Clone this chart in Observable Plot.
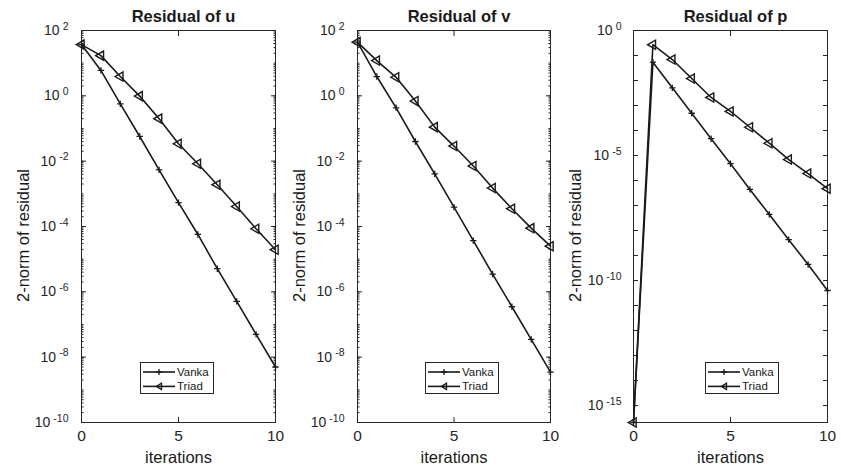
<!DOCTYPE html>
<html><head><meta charset="utf-8">
<script src="https://cdn.jsdelivr.net/npm/d3@7"></script>
<script src="https://cdn.jsdelivr.net/npm/@observablehq/plot@0.6"></script>
<style>
body{margin:0;background:#fff;}
#root{position:relative;width:841px;height:469px;font-family:"Liberation Sans",Arial,Helvetica,sans-serif;}
.panel{position:absolute;top:0;}
.panel svg{overflow:visible;}
</style></head><body><div id="root"></div>
<script>
const iterations = [0,1,2,3,4,5,6,7,8,9,10];
const uVanka = [37, 6.0, 0.57, 5.7e-2, 5.4e-3, 5.4e-4, 5.7e-5, 5.1e-6, 5.1e-7, 5.0e-8, 5.0e-9];
const uTriad = [37, 17, 3.9, 0.98, 0.20, 3.4e-2, 8.3e-3, 1.9e-3, 4.1e-4, 8.5e-5, 1.95e-5];
const vVanka = [44, 3.9, 0.43, 4.0e-2, 4.1e-3, 3.9e-4, 3.7e-5, 3.5e-6, 3.5e-7, 3.5e-8, 3.5e-9];
const vTriad = [44, 12, 3.7, 0.69, 0.11, 2.9e-2, 7.1e-3, 1.5e-3, 3.5e-4, 8.9e-5, 2.5e-5];
const pVanka = [2.1e-16, 5.4e-2, 5.1e-3, 4.9e-4, 4.7e-5, 4.7e-6, 4.4e-7, 4.4e-8, 4.3e-9, 4.4e-10, 4.0e-11];
const pTriad = [2.1e-16, 0.27, 6.9e-2, 1.2e-2, 2.1e-3, 5.8e-4, 1.35e-4, 3.1e-5, 6.9e-6, 1.9e-6, 4.7e-7];
const titles = ["Residual of u", "Residual of v", "Residual of p"];
const legendLabels = ["Vanka", "Triad"];
const xTicks = [0, 5, 10];
const uvMajorExps = [2, 0, -2, -4, -6, -8, -10];
const pMajorExps = [0, -5, -10, -15];
const xLabel = "iterations";
const yLabel = "2-norm of residual";

const INK = "#1a1a1a";
const FRAME = "#262626";
const FONT = '"Liberation Sans", Arial, Helvetica, sans-serif';

function logTicks(e0, e1, mults) {
  const out = [];
  for (let e = e0; e <= e1; e++) for (const m of mults) out.push(m * Math.pow(10, e));
  return out;
}

const panels = [
  {title: titles[0], vanka: uVanka, triad: uTriad, domain: [1e-10, 1e2], major: uvMajorExps,
   minor: logTicks(-10, 1, [1,2,3,4,5,6,7,8,9]), minorSize: 2.5, left: 0, width: 285, ml: 81, mr: 10, pad: 13, legendX: 140},
  {title: titles[1], vanka: vVanka, triad: vTriad, domain: [1e-10, 1e2], major: uvMajorExps,
   minor: logTicks(-10, 1, [1,2,3,4,5,6,7,8,9]), minorSize: 2.5, left: 285, width: 280, ml: 72, mr: 15, pad: 13, legendX: 425},
  {title: titles[2], vanka: pVanka, triad: pTriad, domain: [2.1e-16, 1], major: pMajorExps,
   minor: logTicks(-15, 0, [1]), minorSize: 5, left: 565, width: 276, ml: 68, mr: 14, pad: 12, legendX: 705}
];

const root = document.getElementById("root");

for (const P of panels) {
  const rows = iterations.map((x, i) => ({x, vanka: P.vanka[i], triad: P.triad[i]}));
  const majorTicks = P.major.map(e => Math.pow(10, e));
  const plot = Plot.plot({
    width: P.width, height: 469,
    marginTop: 30, marginBottom: 47, marginLeft: P.ml, marginRight: P.mr,
    style: {fontFamily: FONT, fontSize: "15px", overflow: "visible", background: "transparent", color: FRAME},
    x: {domain: [0, 10], label: null},
    y: {type: "log", domain: P.domain, label: null},
    marks: [
      Plot.axisY(P.minor, {anchor: "left", tickSize: -P.minorSize, tickFormat: () => "", label: null, stroke: FRAME}),
      Plot.axisY(P.minor, {anchor: "right", tickSize: -P.minorSize, tickFormat: () => "", label: null, stroke: FRAME}),
      Plot.axisY(majorTicks, {anchor: "left", tickSize: -5, tickFormat: () => "", label: null, stroke: FRAME}),
      Plot.axisY(majorTicks, {anchor: "right", tickSize: -5, tickFormat: () => "", label: null, stroke: FRAME}),
      Plot.axisY(majorTicks, {anchor: "left", tickSize: 0, tickPadding: P.pad, fill: FRAME,
        tickFormat: d => "10^" + Math.round(Math.log10(d)), label: null}),
      Plot.axisX(xTicks, {anchor: "bottom", tickSize: -5, tickPadding: 12, fill: FRAME, tickFormat: d => "x" + d, label: null}),
      Plot.axisX(xTicks, {anchor: "top", tickSize: -5, tickFormat: () => "", label: null}),
      Plot.frame({stroke: FRAME, strokeWidth: 1}),
      Plot.line(rows, {x: "x", y: "vanka", stroke: INK, strokeWidth: 1.6}),
      Plot.line(rows, {x: "x", y: "triad", stroke: INK, strokeWidth: 1.6}),
      Plot.dot(rows, {x: "x", y: "vanka", symbol: "plus", r: 2.2, stroke: INK, strokeWidth: 1.3}),
      Plot.dot(rows, {x: "x", y: "triad", symbol: "triangle", rotate: -90, r: 3.4, stroke: INK, fill: "none", strokeWidth: 1.4}),
      Plot.text([P.title], {text: d => d, frameAnchor: "top", lineAnchor: "middle", textAnchor: "middle", dy: -14, dx: 5, fontWeight: "bold", fontSize: 16.5, fill: INK}),
      Plot.text([xLabel], {text: d => d, frameAnchor: "bottom", lineAnchor: "middle", textAnchor: "middle", dy: 35, fontSize: 16.5, fill: INK}),
      Plot.text([yLabel], {text: d => d, frameAnchor: "left", lineAnchor: "middle", textAnchor: "middle", dx: -58, dy: 9, rotate: -90, fontSize: 16.5, fill: INK})
    ]
  });
  // tick label styling: superscript exponents on y, sized x labels
  d3.select(plot).selectAll("text").each(function () {
    const t = this.textContent;
    const m = /^10\^(-?\d+)$/.exec(t);
    const mx = /^x(\d+)$/.exec(t);
    if (m && this.childNodes.length === 1) {
      const sel = d3.select(this);
      sel.text("").attr("font-size", "14px");
      sel.append("tspan").text("10");
      sel.append("tspan").attr("dx", 3).attr("dy", "-0.5em").attr("font-size", "10.5px").text(m[1]);
    } else if (mx && this.childNodes.length === 1) {
      d3.select(this).text(mx[1]).attr("font-size", "15.5px");
    }
  });
  const div = document.createElement("div");
  div.className = "panel";
  div.style.left = P.left + "px";
  div.appendChild(plot);
  root.appendChild(div);

  // legend
  const lg = d3.select(root).append("svg")
    .attr("width", 75).attr("height", 33)
    .style("position", "absolute").style("left", P.legendX + "px").style("top", "362px").style("overflow", "visible");
  lg.append("rect").attr("x", 0.5).attr("y", 0.5).attr("width", 73).attr("height", 31)
    .attr("fill", "#fff").attr("stroke", FRAME).attr("stroke-width", 1);
  legendLabels.forEach((lab, i) => {
    const y = 10 + i * 14.4;
    lg.append("line").attr("x1", 3).attr("x2", 35).attr("y1", y).attr("y2", y).attr("stroke", INK).attr("stroke-width", 1.6);
    if (i === 0) {
      lg.append("path").attr("d", `M16,${y}h6M19,${y - 3}v6`).attr("stroke", INK).attr("stroke-width", 1.3);
    } else {
      lg.append("path").attr("d", `M16.5,${y}L21.5,${y - 3.2}L21.5,${y + 3.2}Z`).attr("stroke", INK).attr("fill", "none").attr("stroke-width", 1.3);
    }
    lg.append("text").attr("x", 37).attr("y", y + 4).attr("font-size", "11.5px").attr("font-family", FONT).attr("fill", INK).text(lab);
  });
}
</script></body></html>
